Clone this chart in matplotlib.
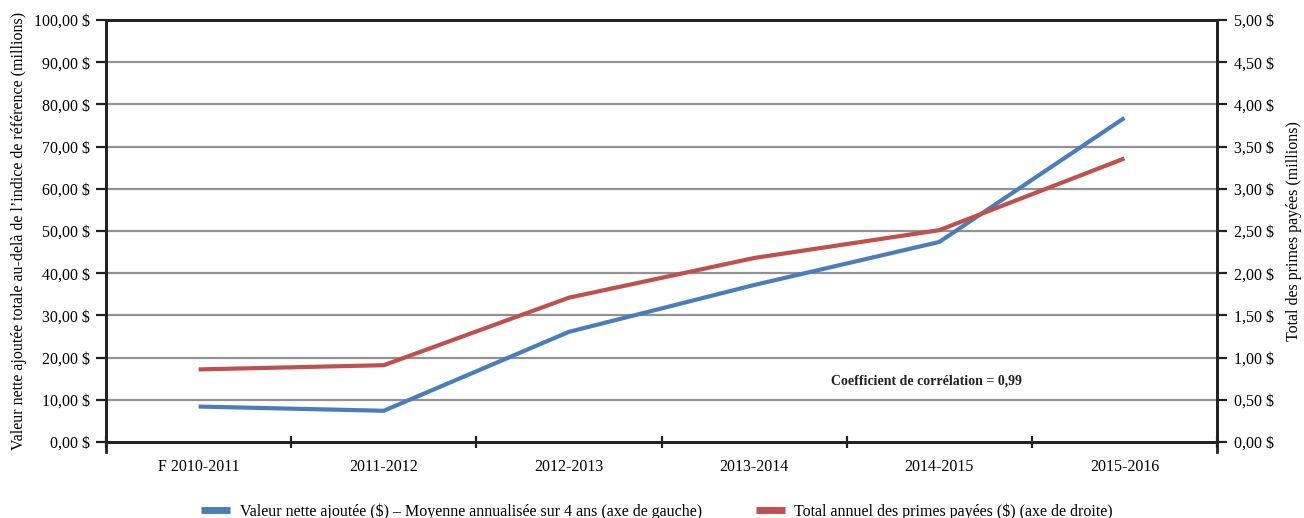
import matplotlib
matplotlib.use('Agg')
import matplotlib.pyplot as plt
from matplotlib.lines import Line2D
from matplotlib.ticker import FuncFormatter, FixedLocator

plt.rcParams['font.family'] = ['Liberation Serif', 'DejaVu Serif']

# Data
years = ['F 2010-2011', '2011-2012', '2012-2013', '2013-2014', '2014-2015', '2015-2016']
valeur_nette = [8.4, 7.4, 26.1, 37.2, 47.4, 76.8]   # left axis, millions $
primes = [0.86, 0.91, 1.71, 2.18, 2.51, 3.36]        # right axis, millions $

blue = '#4A7EBB'
red = '#C0504D'
grid_col = '#929292'
fs = 11.5

W, H, dpi = 1304, 518, 100
fig = plt.figure(figsize=(W / dpi, H / dpi), dpi=dpi)
ax = fig.add_axes([106 / W, 1 - 442 / H, (1217 - 106) / W, (442 - 20) / H])
ax2 = ax.twinx()

x = list(range(len(years)))
ax.plot(x, valeur_nette, color=blue, lw=3, solid_capstyle='butt', zorder=3)
ax2.plot(x, primes, color=red, lw=3, solid_capstyle='butt', zorder=3)

ax.set_xlim(-0.5, len(years) - 0.5)
ax.set_ylim(0, 100)
ax2.set_ylim(0, 5)

ax.set_yticks(range(0, 101, 10))
ax2.set_yticks([i * 0.5 for i in range(11)])
fmt = FuncFormatter(lambda v, p: ('%.2f $' % v).replace('.', ','))
ax.yaxis.set_major_formatter(fmt)
ax2.yaxis.set_major_formatter(fmt)

for v in range(10, 100, 10):
    ax.axhline(v, color=grid_col, lw=1.6, zorder=1)

# category ticks at boundaries, labels at centers
ax.xaxis.set_major_locator(FixedLocator([i - 0.5 for i in range(len(years) + 1)]))
ax.xaxis.set_minor_locator(FixedLocator(x))
ax.set_xticklabels([])
ax.set_xticklabels(years, minor=True)
ax.tick_params(axis='x', which='major', direction='inout', length=8, width=1.6, color='#222222')
ax.tick_params(axis='x', which='minor', length=0, pad=12, labelsize=fs)
ax.tick_params(axis='y', direction='out', length=7, width=1.6, color='#222222', labelsize=fs, pad=4.5)
ax2.tick_params(axis='y', direction='out', length=7, width=1.6, color='#222222', labelsize=fs, pad=5)

for a in (ax, ax2):
    for s in a.spines.values():
        s.set_linewidth(2)
        s.set_color('#222222')
ax.spines['left'].set_bounds(-2.4, 100)
ax2.spines['right'].set_bounds(-0.12, 5)

ax.set_ylabel("Valeur nette ajoutée totale au-delà de l\u2019indice de référence (millions)", fontsize=fs, labelpad=5)
ax2.set_ylabel('Total des primes payées (millions)', fontsize=fs, labelpad=9)

ax.text(3.93, 14.5, 'Coefficient de corrélation = 0,99', fontsize=10, fontweight='bold',
        ha='center', va='center', color='#222222')

handles = [Line2D([], [], color=blue, lw=5, solid_capstyle='butt'),
           Line2D([], [], color=red, lw=5, solid_capstyle='butt')]
labels = ['Valeur nette ajoutée ($) \u2013 Moyenne annualisée sur 4 ans (axe de gauche)',
          'Total annuel des primes payées ($) (axe de droite)']
fig.legend(handles, labels, loc='center', bbox_to_anchor=(0.504, 0.012), ncol=2,
           frameon=False, fontsize=fs, handlelength=1.8, handletextpad=0.6, columnspacing=3.4)

fig.savefig('out.png', dpi=dpi)
